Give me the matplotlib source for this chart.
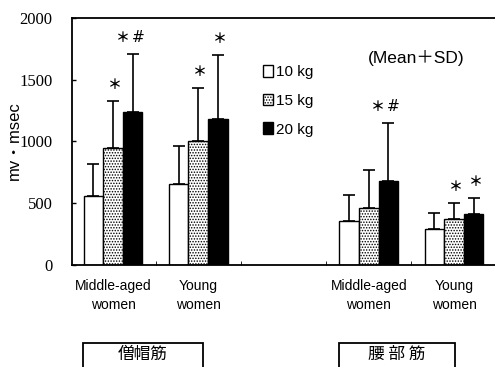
import numpy as np
import matplotlib
matplotlib.use("Agg")
import matplotlib.pyplot as plt
from matplotlib.patches import Patch, Rectangle

# data
groups = ["Middle-aged\nwomen", "Young\nwomen", "Middle-aged\nwomen", "Young\nwomen"]
group_pos = [0, 1, 3, 4]
series = ["10 kg", "15 kg", "20 kg"]
means_10 = [560, 655, 360, 290]
sd_10 = [260, 305, 210, 130]
means_15 = [950, 1000, 460, 370]
sd_15 = [380, 430, 310, 135]
means_20 = [1240, 1180, 680, 415]
sd_20 = [470, 520, 470, 125]
# (group, series, with '#')
sig_marks = [(0, 1, False), (0, 2, True), (1, 1, False), (1, 2, False),
             (2, 2, True), (3, 1, False), (3, 2, False)]
muscles = ["僧帽筋", "腰 部 筋"]

plt.rcParams["hatch.linewidth"] = 0.7
sans = ["Liberation Sans", "Noto Sans CJK JP"]
cjk = ["Noto Sans CJK JP", "DejaVu Sans"]

fig = plt.figure(figsize=(4.95, 3.67), dpi=100)
ax = fig.add_axes([0.1455, 0.278, 0.8545, 0.673])

x = np.array(group_pos, dtype=float)
w = 0.23
means = [means_10, means_15, means_20]
sds = [sd_10, sd_15, sd_20]
styles = [dict(color="white"), dict(color="white", hatch="......"), dict(color="black")]

for i, (m, s, st) in enumerate(zip(means, sds, styles)):
    xs = x + (i - 1) * w
    ax.bar(xs, m, w, edgecolor="black", linewidth=1.0, label=series[i], zorder=2, **st)
    ax.errorbar(xs, m, yerr=[np.zeros(len(s)), s], fmt="none", ecolor="black",
                elinewidth=1.2, capsize=4, capthick=1.2, zorder=1)

for g, si, hash_mark in sig_marks:
    top = means[si][g] + sds[si][g] + 130
    xc = x[g] + (si - 1) * w
    if hash_mark:
        ax.text(xc - 0.12, top, "＊", ha="center", va="center", fontsize=10,
                fontweight="bold", family=cjk)
        ax.text(xc + 0.06, top, "#", ha="center", va="center", fontsize=11,
                family="DejaVu Sans")
    else:
        ax.text(xc + 0.02, top, "＊", ha="center", va="center", fontsize=10,
                fontweight="bold", family=cjk)

ax.set_xlim(-0.481, 4.48)
ax.set_ylim(0, 2000)
ax.set_yticks([0, 500, 1000, 1500, 2000])
ax.tick_params(axis="y", direction="in", length=3, width=1, pad=14)
for t in ax.get_yticklabels():
    t.set_family("Liberation Serif")
    t.set_fontsize(12)
ax.set_xticks(x)
ax.set_xticklabels(groups, family=sans, fontsize=10, linespacing=1.45)
ax.tick_params(axis="x", length=0, pad=10)
ax.set_xticks([0.5, 1.5, 2.5, 3.5], minor=True)
ax.tick_params(axis="x", which="minor", direction="in", length=3)

for sp in ["left", "top", "bottom"]:
    ax.spines[sp].set_linewidth(1.3)
ax.spines["right"].set_visible(False)

fig.text(14 / 495, 1 - 141 / 367, "mv・msec", rotation=90, ha="center", va="center",
         family=sans, fontsize=12)

handles = [Patch(facecolor=st["color"], edgecolor="black", hatch=st.get("hatch"))
           for st in styles]
ax.legend(handles, series, loc="upper left", bbox_to_anchor=(0.42, 0.865),
          frameon=False, handlelength=0.6, handleheight=0.8, handletextpad=0.25,
          labelspacing=0.95, prop={"family": sans, "size": 11})

ax.text(0.699, 0.84, "(Mean＋SD)", transform=ax.transAxes, family=sans, fontsize=12.5,
        ha="left", va="center")

# boxed muscle names below the axes
box_x = [(83, 203), (339, 455)]
for (x0, x1), name in zip(box_x, muscles):
    fig.patches.append(Rectangle((x0 / 495, -0.05), (x1 - x0) / 495, 1 - 343 / 367 + 0.05,
                                 transform=fig.transFigure, fill=False,
                                 edgecolor="black", linewidth=1.3))
    fig.text((x0 + x1) / 2 / 495, 1 - 354 / 367, name, ha="center", va="center",
             fontsize=12, family=cjk)

fig.savefig("out.png", dpi=100)
